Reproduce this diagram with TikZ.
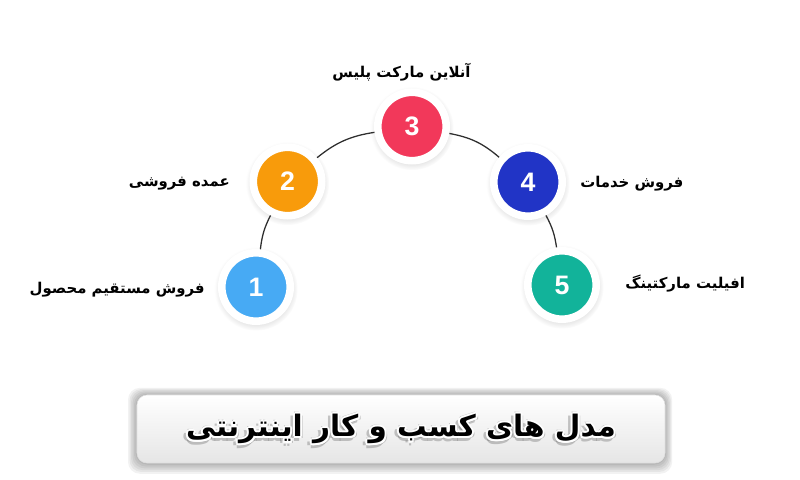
\documentclass[tikz,border=0pt]{standalone}
\usepackage{fontspec}
\usetikzlibrary{shadows}
\TeXXeTstate=1
\newfontfamily\farsi[Script=Arabic]{DejaVu Sans}
\newfontfamily\numfont{Liberation Sans}
\definecolor{modelA}{HTML}{47AAF4}
\definecolor{modelB}{HTML}{F89B0B}
\definecolor{modelC}{HTML}{F2385A}
\definecolor{modelD}{HTML}{2134C6}
\definecolor{modelE}{HTML}{12B39A}
\definecolor{linkgray}{HTML}{2E2E2E}
\newcommand{\headingtext}{\beginR مدل های کسب و کار اینترنتی\endR}
\tikzset{
  model/.style={shape=circle,draw=white,line width=1.9mm,minimum size=17.1mm,inner sep=0pt,
    text=white,font=\numfont\bfseries\fontsize{19}{19}\selectfont,
    circular drop shadow={shadow scale=1.22,shadow xshift=0pt,shadow yshift=-0.4mm,opacity=0.18}},
  link/.style={draw=linkgray,line width=0.9pt},
  label/.style={font=\farsi\bfseries\fontsize{10.6}{13}\selectfont,inner sep=0pt},
  heading/.style={font=\farsi\bfseries\fontsize{21}{26}\selectfont,inner sep=0pt}
}
\begin{document}
\begin{tikzpicture}[x=0.25mm,y=0.25mm]
    \useasboundingbox[fill=white] (0,0) rectangle (800,480);
    % circles
    \node[model,fill=modelA] (m1) at (256,193) {1};
    \node[model,fill=modelB] (m2) at (287.5,298.5) {2};
    \node[model,fill=modelC] (m3) at (412,353.5) {3};
    \node[model,fill=modelD] (m4) at (528,298) {4};
    \node[model,fill=modelE] (m5) at (562,195) {5};
    \path [link] (m1) edge[bend left=10] (m2);
    \path [link] (m2) edge[bend left=15] (m3);
    \path [link] (m3) edge[bend left=15] (m4);
    \path [link] (m4) edge[bend left=10] (m5);
    % labels
    \node[label,anchor=east] (t1) at (205,190) {\beginR فروش مستقیم محصول\endR};
    \node[label,anchor=east] (t2) at (230,296) {\beginR عمده فروشی\endR};
    \node[label] (t3) at (401.5,408) {\beginR آنلاین مارکت پلیس\endR};
    \node[label,anchor=west] (t4) at (580,296) {\beginR فروش خدمات\endR};
    \node[label,anchor=west] (t5) at (625,196) {\beginR افیلیت مارکتینگ\endR};
    % title box
    \foreach \s in {1,...,6}
        \fill[black,opacity=0.05,rounded corners=3mm] (137-\s*1.5,17-\s*1.8) rectangle (665+\s*1.2,85+\s*1.2);
    \node[shape=rectangle,rounded corners=2.5mm,draw=black!12,top color=white,bottom color=black!10,
        minimum width=132mm,minimum height=17mm] (title) at (401,51) {};
    \foreach \a in {0,90,...,270}
        \node[heading,text=black!70,opacity=0.3] at ([shift={(\a:3.5)},shift={(-1,-1.5)}]title.center) {\headingtext};
    \foreach \a in {0,45,...,315}
        \node[heading,text=white] at ([shift={(\a:2)}]title.center) {\headingtext};
    \node[heading] (titletext) at (title.center) {\headingtext};
\end{tikzpicture}
\end{document}
